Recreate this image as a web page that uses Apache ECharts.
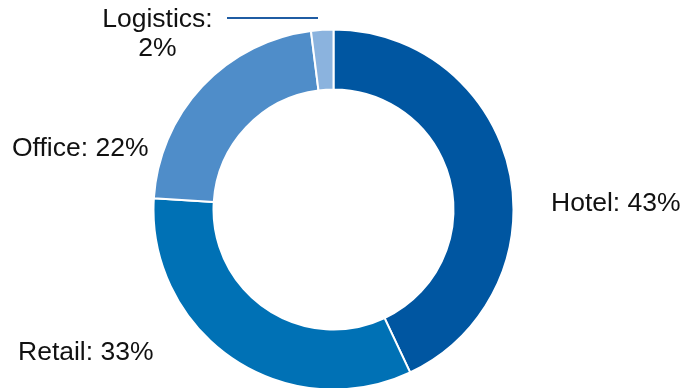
<!DOCTYPE html>
<html>
<head>
<meta charset="utf-8">
<script src="https://cdn.jsdelivr.net/npm/echarts@6/dist/echarts.min.js"></script>
<style>html,body{margin:0;padding:0;background:#fff}#c{width:683px;height:388px}</style>
</head>
<body>
<div id="c"></div>
<script>
const categories = ['Hotel', 'Retail', 'Office', 'Logistics'];
const values = [43, 33, 22, 2];
const colors = ['#0056A1', '#0071B5', '#4F8DC9', '#8BB3DE'];

const labelPos = [
  {x: 551, y: 204, align: 'left'},
  {x: 18, y: 353, align: 'left'},
  {x: 12, y: 149, align: 'left'},
  {x: 157.5, y: 34, align: 'center'}
];

const chart = echarts.init(document.getElementById('c'));
chart.setOption({
  animation: false,
  series: [{
    type: 'pie',
    center: [333.5, 209.5],
    radius: [120, 180],
    startAngle: 90,
    clockwise: true,
    avoidLabelOverlap: false,
    itemStyle: {borderColor: '#fff', borderWidth: 2},
    label: {
      show: true,
      color: '#111',
      fontFamily: 'Liberation Sans, Arial, sans-serif',
      fontSize: 26.5,
      lineHeight: 29,
      formatter: function (p) {
        return p.name === 'Logistics' ? p.name + ':\n' + p.value + '%' : p.name + ': ' + p.value + '%';
      }
    },
    labelLine: {show: false},
    labelLayout: function (p) {
      const lp = labelPos[p.dataIndex];
      const r = {x: lp.x, y: lp.y, align: lp.align, verticalAlign: 'middle'};
      if (p.dataIndex === 3) {
        r.labelLinePoints = [[227, 18], [272, 18], [318, 18]];
      }
      return r;
    },
    data: categories.map((c, i) => {
      const d = {name: c, value: values[i], itemStyle: {color: colors[i]}};
      if (c === 'Logistics') {
        d.label = {align: 'center'};
        d.labelLine = {show: true, lineStyle: {color: '#1F5CA3', width: 2}};
      }
      return d;
    })
  }]
});
</script>
</body>
</html>
